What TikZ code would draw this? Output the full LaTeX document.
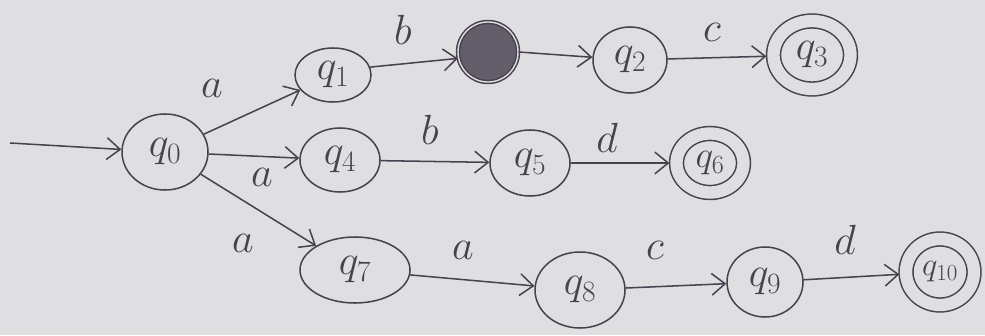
\RequirePackage{fix-cm}
\documentclass[tikz,border=0pt]{standalone}
\usetikzlibrary{shapes.geometric,arrows.meta}
\definecolor{paper}{RGB}{223,223,225}
\definecolor{ink}{RGB}{72,66,78}
\tikzset{
    st/.style={draw=ink, ellipse, line width=1.3pt, inner sep=0pt, text=ink,
        font=\fontsize{36}{38}\selectfont},
    acc/.style={st, double=paper, double distance=0.37cm},
    dead/.style={draw=ink, circle, line width=1.3pt, fill=ink!85, double=paper,
        double distance=1.2pt, minimum size=1.8cm},
    lbl/.style={text=ink, font=\fontsize{36}{38}\selectfont},
    tr/.style={draw=ink, line width=1.3pt, -{Straight Barb[length=0.4cm, width=0.65cm]}},
}
\begin{document}
\begin{tikzpicture}[x=0.03cm, y=-0.03cm]
    \fill[paper] (0,0) rectangle (985,335);
    \useasboundingbox (0,0) rectangle (985,335);

    % states
    \node[st, minimum width=2.58cm, minimum height=2.28cm] (q0) at (165,152) {$q_0$};
    \node[st, minimum width=2.28cm, minimum height=1.62cm] (q1) at (333,75) {$q_1$};
    \node[dead] (qx) at (488,52) {};
    \node[st, minimum width=2.22cm, minimum height=1.98cm] (q2) at (630,60) {$q_2$};
    \node[acc, minimum width=2.31cm, minimum height=2.04cm] (q3) at (812,55) {$q_3$};
    \node[st, minimum width=2.4cm, minimum height=1.92cm] (q4) at (340,160) {$q_4$};
    \node[st, minimum width=2.4cm, minimum height=1.98cm] (q5) at (530,163) {$q_5$};
    \node[acc, minimum width=2.01cm, minimum height=1.77cm, font=\fontsize{32}{34}\selectfont] (q6) at (710,163) {$q_6$};
    \node[st, minimum width=3.3cm, minimum height=1.98cm] (q7) at (355,270) {$q_7$};
    \node[st, minimum width=2.7cm, minimum height=2.28cm] (q8) at (580,290) {$q_8$};
    \node[st, minimum width=2.28cm, minimum height=2.1cm] (q9) at (765,282) {$q_9$};
    \node[acc, minimum width=2.04cm, minimum height=1.98cm, font=\fontsize{28}{30}\selectfont] (q10) at (940,272) {$q_{10}$};

    % transitions
    \coordinate (start) at (10,143);
    \draw[tr] (start) -- (q0);
    \draw[tr] (q0) -- (q1);
    \draw[tr] (q1.12) -- (qx.192);
    \draw[tr] (qx.east) -- (q2);
    \draw[tr, shorten >=0.19cm] (q2) -- (q3);
    \draw[tr] (q0) -- (q4);
    \draw[tr] (q4) -- (q5);
    \draw[tr, shorten >=0.19cm] (q5) -- (q6);
    \draw[tr] (q0) -- (q7);
    \draw[tr] (q7) -- (q8);
    \draw[tr] (q8) -- (q9);
    \draw[tr, shorten >=0.18cm] (q9) -- (q10);

    % labels
    \node[lbl] (la1) at (212,88) {$a$};
    \node[lbl] (lb1) at (403,30) {$b$};
    \node[lbl] (lc1) at (712,32) {$c$};
    \node[lbl] (la2) at (262,177) {$a$};
    \node[lbl] (lb2) at (430,130) {$b$};
    \node[lbl] (ld1) at (607,138) {$d$};
    \node[lbl] (la3) at (243,243) {$a$};
    \node[lbl] (la4) at (463,250) {$a$};
    \node[lbl] (lc2) at (655,250) {$c$};
    \node[lbl] (ld2) at (845,240) {$d$};
\end{tikzpicture}
\end{document}
